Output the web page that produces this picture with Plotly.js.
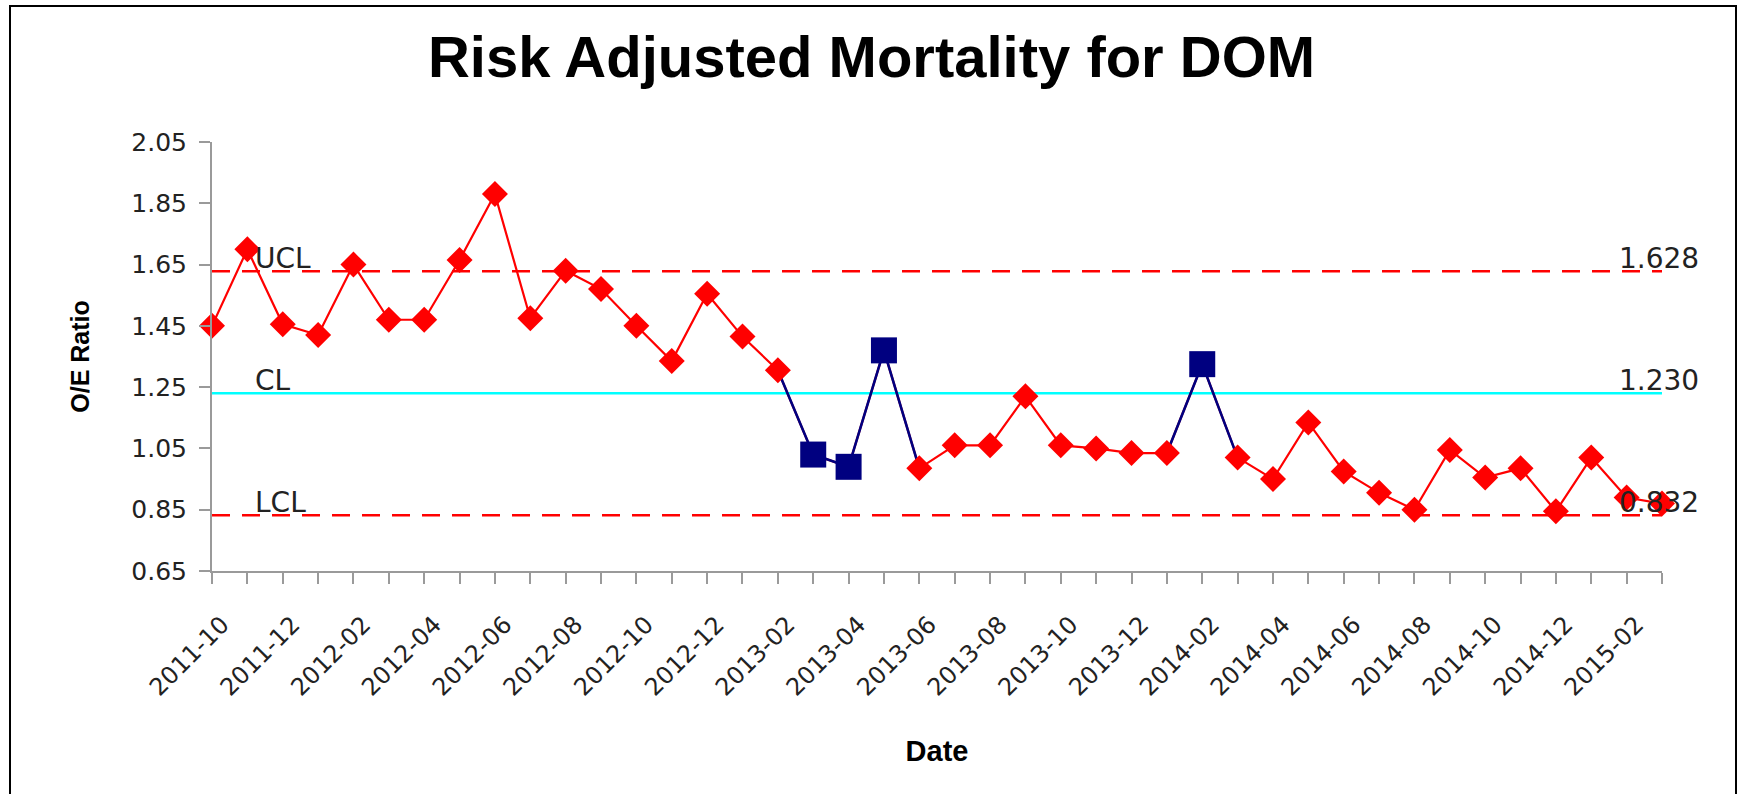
<!DOCTYPE html>
<html>
<head>
<meta charset="utf-8">
<script src="https://cdn.plot.ly/plotly-3.0.1.min.js"></script>
<style>
  html, body { margin: 0; padding: 0; background: #fff; overflow: hidden; }
  #chart { width: 1743px; height: 794px; }
  #frame { position: absolute; left: 9px; top: 5px; width: 1728px; height: 900px;
           box-sizing: border-box; border: 2.5px solid #000; pointer-events: none; }
</style>
</head>
<body>
<div id="chart"></div>
<div id="frame"></div>
<script>
// ---- data ----
const months = [
  '2011-10','2011-11','2011-12',
  '2012-01','2012-02','2012-03','2012-04','2012-05','2012-06','2012-07','2012-08','2012-09','2012-10','2012-11','2012-12',
  '2013-01','2013-02','2013-03','2013-04','2013-05','2013-06','2013-07','2013-08','2013-09','2013-10','2013-11','2013-12',
  '2014-01','2014-02','2014-03','2014-04','2014-05','2014-06','2014-07','2014-08','2014-09','2014-10','2014-11','2014-12',
  '2015-01','2015-02','2015-03'
];
const oeRatio = [
  1.45, 1.70, 1.455,
  1.42, 1.65, 1.47, 1.47, 1.665, 1.88, 1.475, 1.63, 1.57, 1.45, 1.335, 1.555,
  1.415, 1.305, 1.03, 0.99, 1.37, 0.985, 1.06, 1.06, 1.22, 1.06, 1.05, 1.035,
  1.035, 1.325, 1.02, 0.95, 1.135, 0.975, 0.905, 0.85, 1.045, 0.955, 0.985, 0.845,
  1.02, 0.89, 0.87
];
const specialMonths = ['2013-03', '2013-04', '2013-05', '2014-02'];
const UCL = 1.628;
const CL = 1.230;
const LCL = 0.832;
const yTicks = [0.65, 0.85, 1.05, 1.25, 1.45, 1.65, 1.85, 2.05];

// ---- derived ----
const isSpecial = months.map(m => specialMonths.includes(m));
const nearSpecial = months.map((m, i) => isSpecial[i] || isSpecial[i - 1] || isSpecial[i + 1]);
const navySeg = oeRatio.map((v, i) => nearSpecial[i] ? v : null);
const redPts = oeRatio.map((v, i) => isSpecial[i] ? null : v);
const navyPts = oeRatio.map((v, i) => isSpecial[i] ? v : null);
const tickText = months.map((m, i) => i % 2 === 0 ? m : '');

const RED = '#ff0000', NAVY = '#000080', CYAN = '#00ffff';
const TICKFONT = 'DejaVu Sans, Verdana, sans-serif';
const BOLDFONT = 'Liberation Sans, Arial, sans-serif';

const traces = [
  { x: months, y: months.map(() => UCL), mode: 'lines', line: { color: RED, width: 2.5, dash: '18px,12px' }, hoverinfo: 'skip' },
  { x: months, y: months.map(() => LCL), mode: 'lines', line: { color: RED, width: 2.5, dash: '18px,12px' }, hoverinfo: 'skip' },
  { x: months, y: months.map(() => CL), mode: 'lines', line: { color: CYAN, width: 2.5 }, hoverinfo: 'skip' },
  { x: months, y: oeRatio, mode: 'lines', line: { color: RED, width: 2.2 }, cliponaxis: false },
  { x: months, y: navySeg, mode: 'lines', line: { color: NAVY, width: 2.6 }, connectgaps: false, cliponaxis: false },
  { x: months, y: redPts, mode: 'markers', marker: { symbol: 'diamond', size: 20, color: RED }, cliponaxis: false },
  { x: months, y: navyPts, mode: 'markers', marker: { symbol: 'square', size: 26, color: NAVY }, cliponaxis: false }
];

const last = months[months.length - 1];
const annFont = { family: TICKFONT, size: 28, color: '#222' };
const annotations = [
  { x: months[1], y: UCL, text: 'UCL', xanchor: 'left', yanchor: 'bottom', xshift: 6, yshift: -6 },
  { x: months[1], y: CL, text: 'CL', xanchor: 'left', yanchor: 'bottom', xshift: 6, yshift: -6 },
  { x: months[1], y: LCL, text: 'LCL', xanchor: 'left', yanchor: 'bottom', xshift: 6, yshift: -6 },
  { x: last, y: UCL, text: UCL.toFixed(3), xanchor: 'center', yanchor: 'bottom', xshift: -3, yshift: -6 },
  { x: last, y: CL, text: CL.toFixed(3), xanchor: 'center', yanchor: 'bottom', xshift: -3, yshift: -6 },
  { x: last, y: LCL, text: LCL.toFixed(3), xanchor: 'center', yanchor: 'bottom', xshift: -3, yshift: -6 }
].map(a => Object.assign({ xref: 'x', yref: 'y', showarrow: false, font: annFont }, a));

const layout = {
  width: 1743, height: 794,
  margin: { l: 212, r: 81, t: 142, b: 223, pad: 0 },
  paper_bgcolor: '#fff', plot_bgcolor: '#fff',
  showlegend: false,
  title: {
    text: 'Risk Adjusted Mortality for DOM',
    font: { family: BOLDFONT, size: 58, weight: 'bold', color: '#000' },
    x: 0.5, xanchor: 'center', xref: 'container',
    y: 1 - 57 / 794, yanchor: 'middle', yref: 'container'
  },
  xaxis: {
    type: 'category',
    range: [0, months.length - 1],
    tickmode: 'array', tickvals: months, ticktext: tickText,
    tickangle: -45,
    ticks: 'outside', ticklen: 11, tickwidth: 2, tickcolor: '#9a9a9a',
    showline: true, linecolor: '#9a9a9a', linewidth: 2,
    showgrid: false, zeroline: false,
    tickfont: { family: TICKFONT, size: 24, color: '#222' },
    ticklabelstandoff: 17,
    ticklabelshift: 10,
    title: { text: 'Date', font: { family: BOLDFONT, size: 29, weight: 'bold', color: '#000' }, standoff: 40 },
    automargin: false
  },
  yaxis: {
    range: [0.65, 2.05],
    tickmode: 'array', tickvals: yTicks, ticktext: yTicks.map(v => v.toFixed(2)),
    ticks: 'outside', ticklen: 11, tickwidth: 2, tickcolor: '#9a9a9a',
    showline: true, linecolor: '#9a9a9a', linewidth: 2,
    showgrid: false, zeroline: false,
    tickfont: { family: TICKFONT, size: 25, color: '#222' },
    ticklabelstandoff: 7,
    title: { text: 'O/E Ratio', font: { family: BOLDFONT, size: 25, weight: 'bold', color: '#000' }, standoff: 35 },
    automargin: false
  },
  annotations: annotations
};

Plotly.newPlot('chart', traces, layout, { staticPlot: true, displayModeBar: false });
</script>
</body>
</html>
